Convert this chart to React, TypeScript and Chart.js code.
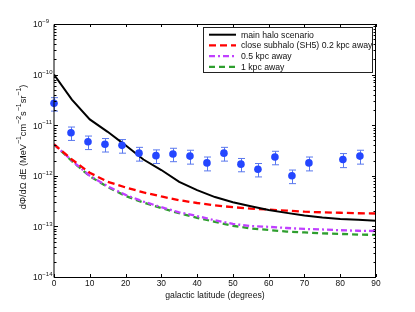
import React, { useEffect, useRef } from 'react';
import { Chart, registerables } from 'chart.js';

Chart.register(...registerables);

// ---------- data ----------
const latitudes = [0, 5, 10, 15, 20, 25, 30, 35, 40, 45, 50, 55, 60, 65, 70, 75, 80, 85, 90];
const mainHalo = [1.0e-10, 3.2e-11, 1.3e-11, 7.4e-12, 4.0e-12, 2.1e-12, 1.3e-12, 7.6e-13, 5.2e-13, 3.8e-13, 3.0e-13, 2.5e-13, 2.1e-13, 1.85e-13, 1.65e-13, 1.5e-13, 1.4e-13, 1.35e-13, 1.29e-13];
const subhalo02 = [4.2e-12, 2.1e-12, 1.15e-12, 7.6e-13, 5.9e-13, 4.7e-13, 3.9e-13, 3.3e-13, 2.9e-13, 2.6e-13, 2.4e-13, 2.25e-13, 2.15e-13, 2.05e-13, 1.95e-13, 1.9e-13, 1.86e-13, 1.82e-13, 1.8e-13];
const subhalo05 = [4.2e-12, 2.0e-12, 1.0e-12, 6.2e-13, 4.2e-13, 3.1e-13, 2.4e-13, 1.9e-13, 1.6e-13, 1.32e-13, 1.12e-13, 1.02e-13, 9.8e-14, 9.3e-14, 8.9e-14, 8.7e-14, 8.4e-14, 8.2e-14, 8.1e-14];
const subhalo1 = [4.2e-12, 1.95e-12, 9.8e-13, 6.0e-13, 4.0e-13, 2.95e-13, 2.3e-13, 1.82e-13, 1.48e-13, 1.23e-13, 1.03e-13, 9.1e-14, 8.5e-14, 7.9e-14, 7.6e-14, 7.3e-14, 7.1e-14, 6.9e-14, 6.8e-14];

const obsLatitudes = [0, 4.75, 9.5, 14.25, 19, 23.75, 28.5, 33.25, 38, 42.75, 47.5, 52.25, 57, 61.75, 66.5, 71.25, 80.75, 85.5];
const obsFlux = [2.7e-11, 7.1e-12, 4.7e-12, 4.2e-12, 4.0e-12, 2.8e-12, 2.5e-12, 2.7e-12, 2.45e-12, 1.8e-12, 2.8e-12, 1.7e-12, 1.35e-12, 2.35e-12, 1.0e-12, 1.8e-12, 2.1e-12, 2.45e-12];
const obsErr = [0.8e-11, 2.1e-12, 1.4e-12, 1.25e-12, 1.2e-12, 0.85e-12, 0.75e-12, 0.8e-12, 0.75e-12, 0.55e-12, 0.85e-12, 0.5e-12, 0.4e-12, 0.7e-12, 0.3e-12, 0.55e-12, 0.65e-12, 0.75e-12];

const xTickValues = [0, 10, 20, 30, 40, 50, 60, 70, 80, 90];
const yTickValues = [1e-9, 1e-10, 1e-11, 1e-12, 1e-13, 1e-14];
const yTickExponents = ['\u22129', '\u221210', '\u221211', '\u221212', '\u221213', '\u221214'];
const legendLabels = ['main halo scenario', 'close subhalo (SH5) 0.2 kpc away', '0.5 kpc away', '1 kpc away'];

const xTitle = 'galactic latitude (degrees)';
const yTitleSegments: [string, boolean][] = [
  ['d\u03A6/d\u03A9 dE (MeV', false], ['\u22121', true], ['cm', false], ['\u22122', true],
  ['s', false], ['\u22121', true], ['sr', false], ['\u22121', true], [')', false],
];

// ---------- styles ----------
const FONT = '"Liberation Sans", Arial, Helvetica, sans-serif';
const TICK = 8.4;
const TICK_SUP = 6;
const LABEL = 8.7;
const YT_BASE = 9.2;
const YT_SUP = 7;
const seriesStyles = [
  { color: '#000000', dash: [] as number[], width: 2 },
  { color: '#ff0000', dash: [7, 4], width: 2.3 },
  { color: '#c040ff', dash: [6, 3, 2, 3], width: 2.3 },
  { color: '#2e9e2e', dash: [6, 4], width: 2.3 },
];

function drawSegments(ctx: CanvasRenderingContext2D, segs: [string, boolean][], x: number, y: number, base: number, small: number) {
  let cx = x;
  for (const [t, sup] of segs) {
    ctx.font = `${sup ? small : base}px ${FONT}`;
    ctx.fillText(t, cx, sup ? y - base * 0.42 : y);
    cx += ctx.measureText(t).width;
  }
}
function segWidth(ctx: CanvasRenderingContext2D, segs: [string, boolean][], base: number, small: number) {
  let w = 0;
  for (const [t, sup] of segs) {
    ctx.font = `${sup ? small : base}px ${FONT}`;
    w += ctx.measureText(t).width;
  }
  return w;
}

const errorBarPlugin = {
  id: 'errorBars',
  beforeDatasetsDraw(chart: any) {
    const { ctx, scales } = chart;
    const x = scales.x, y = scales.y;
    ctx.save();
    ctx.strokeStyle = '#5a78ee';
    ctx.lineWidth = 1;
    obsLatitudes.forEach((d, i) => {
      const px = Math.round(x.getPixelForValue(d)) + 0.5;
      const yt = y.getPixelForValue(obsFlux[i] + obsErr[i]);
      const yb = y.getPixelForValue(obsFlux[i] - obsErr[i]);
      ctx.beginPath();
      ctx.moveTo(px, yt); ctx.lineTo(px, yb);
      ctx.moveTo(px - 3.5, yt); ctx.lineTo(px + 3.5, yt);
      ctx.moveTo(px - 3.5, yb); ctx.lineTo(px + 3.5, yb);
      ctx.stroke();
    });
    ctx.restore();
  },
};

const framePlugin = {
  id: 'frame',
  afterDraw(chart: any) {
    const { ctx, chartArea: a, scales } = chart;
    const x = scales.x, y = scales.y;
    ctx.save();
    // ticks
    ctx.strokeStyle = '#000';
    ctx.lineWidth = 1;
    ctx.beginPath();
    xTickValues.forEach((v) => {
      const px = Math.round(x.getPixelForValue(v)) + 0.5;
      ctx.moveTo(px, a.bottom); ctx.lineTo(px, a.bottom - 3);
      ctx.moveTo(px, a.top); ctx.lineTo(px, a.top + 3);
    });
    yTickValues.forEach((v, i) => {
      const py = Math.round(y.getPixelForValue(v)) + 0.5;
      ctx.moveTo(a.left, py); ctx.lineTo(a.left + 4, py);
      ctx.moveTo(a.right, py); ctx.lineTo(a.right - 4, py);
      if (i > 0) {
        for (let m = 2; m <= 9; m++) {
          const pm = Math.round(y.getPixelForValue(v * m)) + 0.5;
          ctx.moveTo(a.left, pm); ctx.lineTo(a.left + 2.5, pm);
          ctx.moveTo(a.right, pm); ctx.lineTo(a.right - 2.5, pm);
        }
      }
    });
    ctx.stroke();
    // box
    ctx.beginPath();
    ctx.rect(a.left, a.top + 0.5, a.right - a.left - 0.5, a.bottom - a.top);
    ctx.stroke();

    // y tick labels
    ctx.fillStyle = '#111';
    ctx.textBaseline = 'middle';
    ctx.textAlign = 'left';
    yTickValues.forEach((v, i) => {
      const py = y.getPixelForValue(v);
      drawSegments(ctx, [['10', false], [yTickExponents[i], true]], 33, py + 1, TICK, TICK_SUP);
    });

    // y title
    ctx.save();
    ctx.translate(23, 147);
    ctx.rotate(-Math.PI / 2);
    const w = segWidth(ctx, yTitleSegments, YT_BASE, YT_SUP);
    drawSegments(ctx, yTitleSegments, -w / 2, 0, YT_BASE, YT_SUP);
    ctx.restore();

    // x title
    ctx.font = `${LABEL}px ${FONT}`;
    ctx.textAlign = 'center';
    ctx.fillText(xTitle, (a.left + a.right) / 2, 296);

    // legend
    const lx = 203.5, ly = 27.5, lw = 169, lh = 45;
    ctx.fillStyle = '#fff';
    ctx.fillRect(lx, ly, lw, lh);
    ctx.strokeStyle = '#222';
    ctx.lineWidth = 1;
    ctx.strokeRect(lx, ly, lw, lh);
    ctx.textAlign = 'left';
    legendLabels.forEach((label, i) => {
      const ry = 34.7 + i * 10.7;
      const s = seriesStyles[i];
      ctx.strokeStyle = s.color;
      ctx.lineWidth = s.width;
      ctx.setLineDash(s.dash);
      ctx.beginPath();
      ctx.moveTo(209, ry); ctx.lineTo(236, ry);
      ctx.stroke();
      ctx.setLineDash([]);
      ctx.fillStyle = '#111';
      ctx.font = `${LABEL}px ${FONT}`;
      ctx.fillText(label, 241, ry + 0.5);
    });
    ctx.restore();
  },
};

export default function App() {
  const ref = useRef<HTMLCanvasElement | null>(null);
  useEffect(() => {
    if (!ref.current) return;
    const curves = [mainHalo, subhalo02, subhalo05, subhalo1];
    const datasets: any[] = curves.map((vals, i) => ({
      type: 'line',
      label: legendLabels[i],
      data: latitudes.map((d, j) => ({ x: d, y: vals[j] })),
      borderColor: seriesStyles[i].color,
      borderWidth: seriesStyles[i].width,
      borderDash: seriesStyles[i].dash,
      pointRadius: 0,
      tension: 0,
      fill: false,
      order: 2 + i,
    }));
    datasets.push({
      type: 'scatter',
      label: 'data',
      data: obsLatitudes.map((d, j) => ({ x: d, y: obsFlux[j] })),
      pointRadius: 3.8,
      pointBackgroundColor: '#2446ff',
      pointBorderWidth: 0,
      showLine: false,
      clip: false,
      order: 1,
    });
    const chart = new Chart(ref.current, {
      type: 'line',
      data: { datasets },
      options: {
        animation: false,
        responsive: true,
        maintainAspectRatio: false,
        layout: { padding: { left: 0, right: 39, top: 24, bottom: 0 } },
        plugins: { legend: { display: false }, tooltip: { enabled: false } },
        scales: {
          x: {
            type: 'linear',
            min: 0,
            max: 90,
            afterFit: (s: any) => { s.height = 35; },
            afterBuildTicks: (s: any) => { s.ticks = xTickValues.map((v) => ({ value: v })); },
            ticks: { font: { size: TICK, family: FONT }, color: '#111', padding: 2, maxRotation: 0, autoSkip: false },
            grid: { display: false, drawTicks: false },
            border: { display: false },
          },
          y: {
            type: 'logarithmic',
            min: 1e-14,
            max: 1e-9,
            afterFit: (s: any) => { s.width = 54; },
            ticks: { display: false },
            grid: { display: false, drawTicks: false },
            border: { display: false },
          },
        },
      } as any,
      plugins: [errorBarPlugin, framePlugin],
    });
    return () => chart.destroy();
  }, []);
  return (
    <div style={{ position: 'fixed', left: 0, top: 0, width: 415, height: 312, background: '#fff' }}>
      <canvas ref={ref} />
    </div>
  );
}
